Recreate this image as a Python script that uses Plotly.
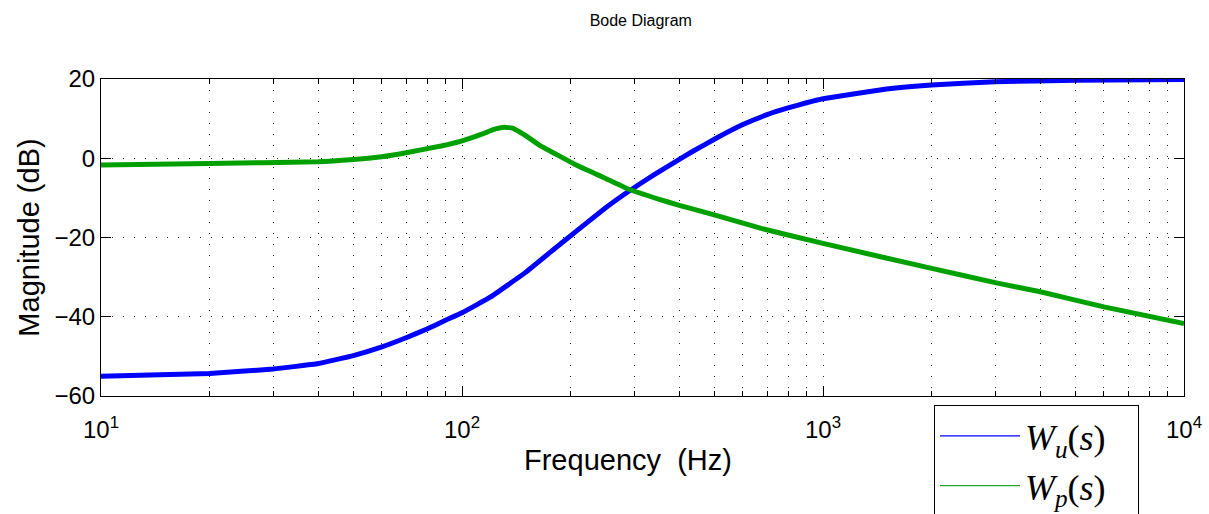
import plotly.graph_objects as go

# ---- data ----
freq_u = [10, 20, 30, 40, 50, 60, 70, 80, 90, 100, 120, 150, 188, 250, 291,
          340, 400, 435, 500, 600, 700, 800, 900, 1000, 1500, 2000, 3000, 5000, 10000]
mag_u = [-55.0, -54.3, -53.2, -51.8, -49.8, -47.6, -45.3, -43.1, -40.9, -39.0,
         -35.0, -28.8, -21.5, -12.5, -8.2, -4.2, -0.3, 1.7, 4.8, 8.5, 11.0, 12.7,
         14.0, 15.0, 17.5, 18.5, 19.3, 19.7, 19.9]

freq_p = [10, 20, 40, 50, 60, 70, 87.5, 100, 115, 122, 131, 138, 149, 165,
          184, 205, 238, 254, 291, 350, 400, 500, 674, 1000, 2000, 3000,
          4000, 6000, 10000]
mag_p = [-1.7, -1.3, -0.9, -0.3, 0.4, 1.4, 3.1, 4.4, 6.3, 7.2, 7.8, 7.6, 5.9,
         3.1, 0.8, -1.5, -4.2, -5.4, -7.9, -10.3, -11.9, -14.3, -17.7,
         -21.5, -27.8, -31.4, -33.7, -37.5, -41.7]

x_tickvals = [10, 100, 1000, 10000]
x_ticktext = ["10<sup>1</sup>", "10<sup>2</sup>", "10<sup>3</sup>", "10<sup>4</sup>"]
x_minor = [m * d for d in (10, 100, 1000) for m in range(2, 10)]
y_tickvals = [-60, -40, -20, 0, 20]

legend_names = ["<i>W</i><sub><i>u</i></sub>(<i>s</i>)&nbsp;&nbsp;&nbsp;",
                "<i>W</i><sub><i>p</i></sub>(<i>s</i>)&nbsp;&nbsp;&nbsp;"]

BLUE = "#0000ff"
GREEN = "#00a000"
GRID = "#222222"
FONT = "Liberation Sans, Arial, Helvetica, sans-serif"

fig = go.Figure()
fig.add_trace(go.Scatter(x=freq_u, y=mag_u, mode="lines", showlegend=False,
                         line=dict(color=BLUE, width=5, shape="spline", smoothing=0.3)))
fig.add_trace(go.Scatter(x=freq_p, y=mag_p, mode="lines", showlegend=False,
                         line=dict(color=GREEN, width=5, shape="spline", smoothing=0.3)))
# legend entries (thin lines as in the reference)
fig.add_trace(go.Scatter(x=[None], y=[None], mode="lines", name=legend_names[0],
                         line=dict(color=BLUE, width=1.2)))
fig.add_trace(go.Scatter(x=[None], y=[None], mode="lines", name=legend_names[1],
                         line=dict(color="#22aa22", width=1.2)))

fig.update_layout(
    width=1209, height=514,
    margin=dict(l=101, r=25, t=79, b=118, autoexpand=False),
    paper_bgcolor="white", plot_bgcolor="white",
    font=dict(family=FONT, size=24, color="black"),
    title=dict(text="Bode Diagram", x=0.53, xanchor="center", y=1 - 20 / 514,
               yanchor="middle", font=dict(family=FONT, size=16, color="black")),
    legend=dict(x=(934 - 101) / 1083, y=(396 - 405) / 317, xanchor="left", yanchor="top",
                bordercolor="black", borderwidth=1, bgcolor="white",
                font=dict(family="Liberation Serif, Times New Roman, serif", size=36),
                itemwidth=80),
    showlegend=True,
    annotations=[dict(text="Frequency  (Hz)", xref="paper", yref="paper",
                      x=(628 - 101) / 1083, y=(396 - 460) / 317,
                      xanchor="center", yanchor="middle", showarrow=False,
                      font=dict(family=FONT, size=29, color="black"))],
)

fig.update_xaxes(
    type="log", range=[1, 4], automargin=False,
    tickmode="array", tickvals=x_tickvals, ticktext=x_ticktext,
    ticks="inside", ticklen=10, tickwidth=1, tickcolor="black",
    ticklabelstandoff=12,
    showline=True, linecolor="black", linewidth=1, mirror="allticks",
    showgrid=True, gridcolor=GRID, gridwidth=1, griddash="1px,10px",
    minor=dict(tickvals=x_minor, ticks="inside", ticklen=5, tickcolor="black",
               showgrid=True, gridcolor=GRID, gridwidth=1, griddash="1px,10px"),
    zeroline=False,
)
fig.update_yaxes(
    range=[-60, 20], tickmode="array", tickvals=y_tickvals, automargin=False,
    ticks="inside", ticklen=10, tickwidth=1, tickcolor="black",
    showline=True, linecolor="black", linewidth=1, mirror="allticks",
    showgrid=True, gridcolor=GRID, gridwidth=1, griddash="1px,10px",
    title=dict(text="Magnitude (dB)", font=dict(size=29), standoff=6),
    zeroline=False,
)

fig.write_html("out.html")
